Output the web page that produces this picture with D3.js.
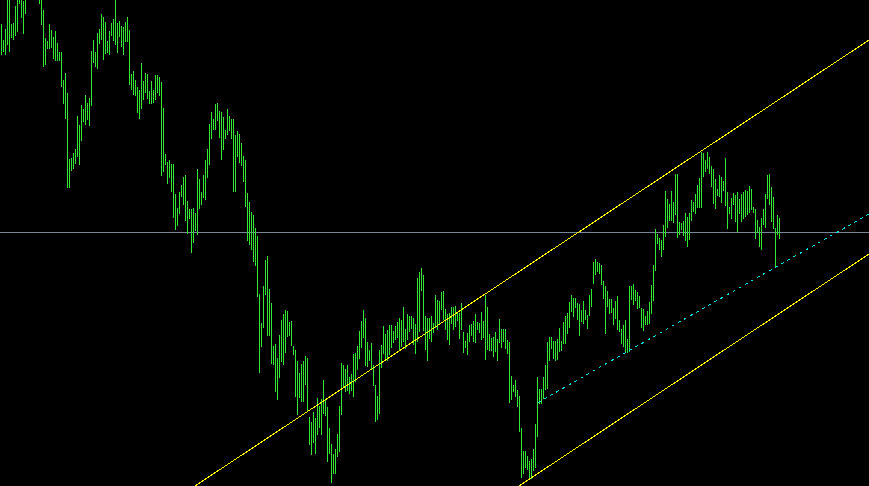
<!DOCTYPE html>
<html>
<head>
<meta charset="utf-8">
<script src="https://cdn.jsdelivr.net/npm/d3@7"></script>
<style>
html,body{margin:0;padding:0;background:#000;overflow:hidden;}
svg{display:block;}
</style>
</head>
<body>
<script>
// Bar highs / lows (price points), one bar per period
const highs = [
476,460,471,503,506,476,477,494,502,510,504,499,506,520,530,534,528,524,514,505,503,490,462,459,476,470,463,469,457,448,448,420,427,407,341,342,347,351,384,375,395,391,405,397,402,449,460,448,467,471,486,483,478,459,469,477,481,502,477,479,474,473,478,483,470,426,429,420,413,410,437,419,427,426,409,
419,410,425,425,423,418,392,346,338,340,336,336,306,292,308,315,323,325,299,291,291,292,287,331,321,308,325,340,351,376,388,381,396,397,389,388,383,370,391,384,381,381,365,369,366,357,344,340,307,298,288,285,272,264,
206,177,214,240,244,211,197,154,156,142,165,180,186,190,189,178,179,154,150,139,127,136,139,144,142,83,78,88,82,102,94,101,120,101,93,72,56,46,51,66,94,137,135,131,135,123,126,146,147,154,169,179,190,182,158,150,157,135,115,104,150,155,174,166,170,175,175,169,174,178,182,
180,193,171,186,184,184,182,176,222,228,232,225,184,182,182,184,177,205,200,199,208,209,191,186,187,193,193,194,188,187,197,168,159,167,175,176,179,186,178,177,188,179,205,193,166,162,163,168,161,181,171,171,171,160,158,124,115,120,110,104,72,49,49,44,39,41,51,76,123,111,111,123,135,158,163,
163,159,159,161,172,159,178,184,187,198,205,202,202,197,196,190,199,190,185,205,211,238,241,238,237,235,219,214,209,201,201,192,199,204,180,171,175,180,161,214,214,216,210,208,204,192,191,184,189,198,215,235,271,266,262,260,275,309,301,296,309,298,326,326,278,
277,279,287,283,287,300,298,306,315,322,348,347,340,348,343,334,331,321,311,325,323,319,342,308,293,302,307,305,308,301,306,308,310,309,314,311,293,291,280,273,282,291,306,325,326,313,303,272,285,282
];
const lows = [
445,448,445,455,448,462,460,464,468,496,482,466,486,502,510,512,508,505,501,496,475,433,435,451,451,452,441,439,439,439,413,396,381,312,312,329,331,336,343,335,359,378,375,380,374,394,437,433,431,456,460,440,446,447,445,464,459,455,447,463,453,445,458,458,415,410,405,404,387,381,391,400,407,401,396,
396,397,400,407,404,324,328,335,316,322,308,282,270,274,286,303,295,279,266,281,247,257,269,265,291,295,302,300,322,335,361,370,370,379,362,340,350,361,365,369,361,308,308,343,337,334,318,293,259,255,250,238,234,203,
127,153,172,205,164,164,136,135,108,100,122,138,135,147,163,164,154,145,103,85,102,98,98,115,88,55,45,57,46,65,72,65,86,84,38,46,17,26,26,43,48,85,113,108,109,106,109,103,118,130,141,152,162,134,133,139,130,114,78,80,86,132,146,139,139,145,152,157,160,162,150,
153,158,151,160,168,171,155,146,158,168,209,169,150,139,161,158,167,172,170,176,190,180,170,160,155,176,170,173,179,161,170,147,152,145,158,164,158,157,170,167,160,162,140,150,149,149,143,148,139,157,152,158,151,146,97,100,108,103,93,68,22,26,32,30,22,21,29,32,63,96,96,101,110,111,139,
151,141,139,140,148,149,156,156,166,172,188,183,192,180,164,178,176,180,171,184,193,216,225,228,226,215,201,166,193,186,187,175,181,170,168,156,153,148,147,148,200,195,199,191,192,172,169,175,175,176,186,199,229,256,250,243,250,263,272,279,279,277,285,262,265,
270,264,259,253,260,279,288,286,292,292,292,323,328,331,326,313,296,291,304,303,297,309,294,271,286,281,295,278,268,286,278,281,283,285,287,290,287,261,267,253,250,275,272,301,295,278,271,233,265,261
];

// Objects on chart (anchors in bar index / price)
const channelLines = [
  {name: "upper", i1: 97, p1: 14, i2: 434, p2: 460},
  {name: "lower", i1: 259, p1: 14, i2: 434, p2: 246}
];
const dottedLine = {i1: 268.5, p1: 97.5, i2: 434, p2: 286};
const hLevel = 268;

const W = 869, H = 486;
const svg = d3.select("body").append("svg").attr("width", W).attr("height", H);
svg.append("rect").attr("width", W).attr("height", H).attr("fill", "#000");

const x = d3.scaleLinear().domain([0, 434]).range([1, 869]);
const y = d3.scaleLinear().domain([14, 500]).range([486, 0]);

const n = Math.min(highs.length, lows.length);
const bars = d3.range(n).map(i => ({i, h: highs[i], l: lows[i]}));

// horizontal level
svg.append("rect")
  .attr("x", 0).attr("width", W)
  .attr("y", y(hLevel)).attr("height", 1)
  .attr("fill", "#778899");

// bars
svg.append("g").selectAll("rect").data(bars).join("rect")
  .attr("x", d => x(d.i))
  .attr("width", 1)
  .attr("y", d => y(d.h))
  .attr("height", d => Math.max(1, y(d.l) - y(d.h)))
  .attr("fill", "#33e633")
  .attr("shape-rendering", "crispEdges");

// channel lines
svg.append("g").selectAll("line").data(channelLines).join("line")
  .attr("x1", d => x(d.i1)).attr("y1", d => y(d.p1))
  .attr("x2", d => x(d.i2)).attr("y2", d => y(d.p2))
  .attr("stroke", "#ffff00").attr("stroke-width", 1)
  .attr("shape-rendering", "crispEdges");

// dotted line
svg.append("line")
  .attr("x1", x(dottedLine.i1)).attr("y1", y(dottedLine.p1))
  .attr("x2", x(dottedLine.i2)).attr("y2", y(dottedLine.p2))
  .attr("stroke", "#00e5e5").attr("stroke-width", 1)
  .attr("stroke-dasharray", "3,4")
  .attr("shape-rendering", "crispEdges");
</script>
</body>
</html>
